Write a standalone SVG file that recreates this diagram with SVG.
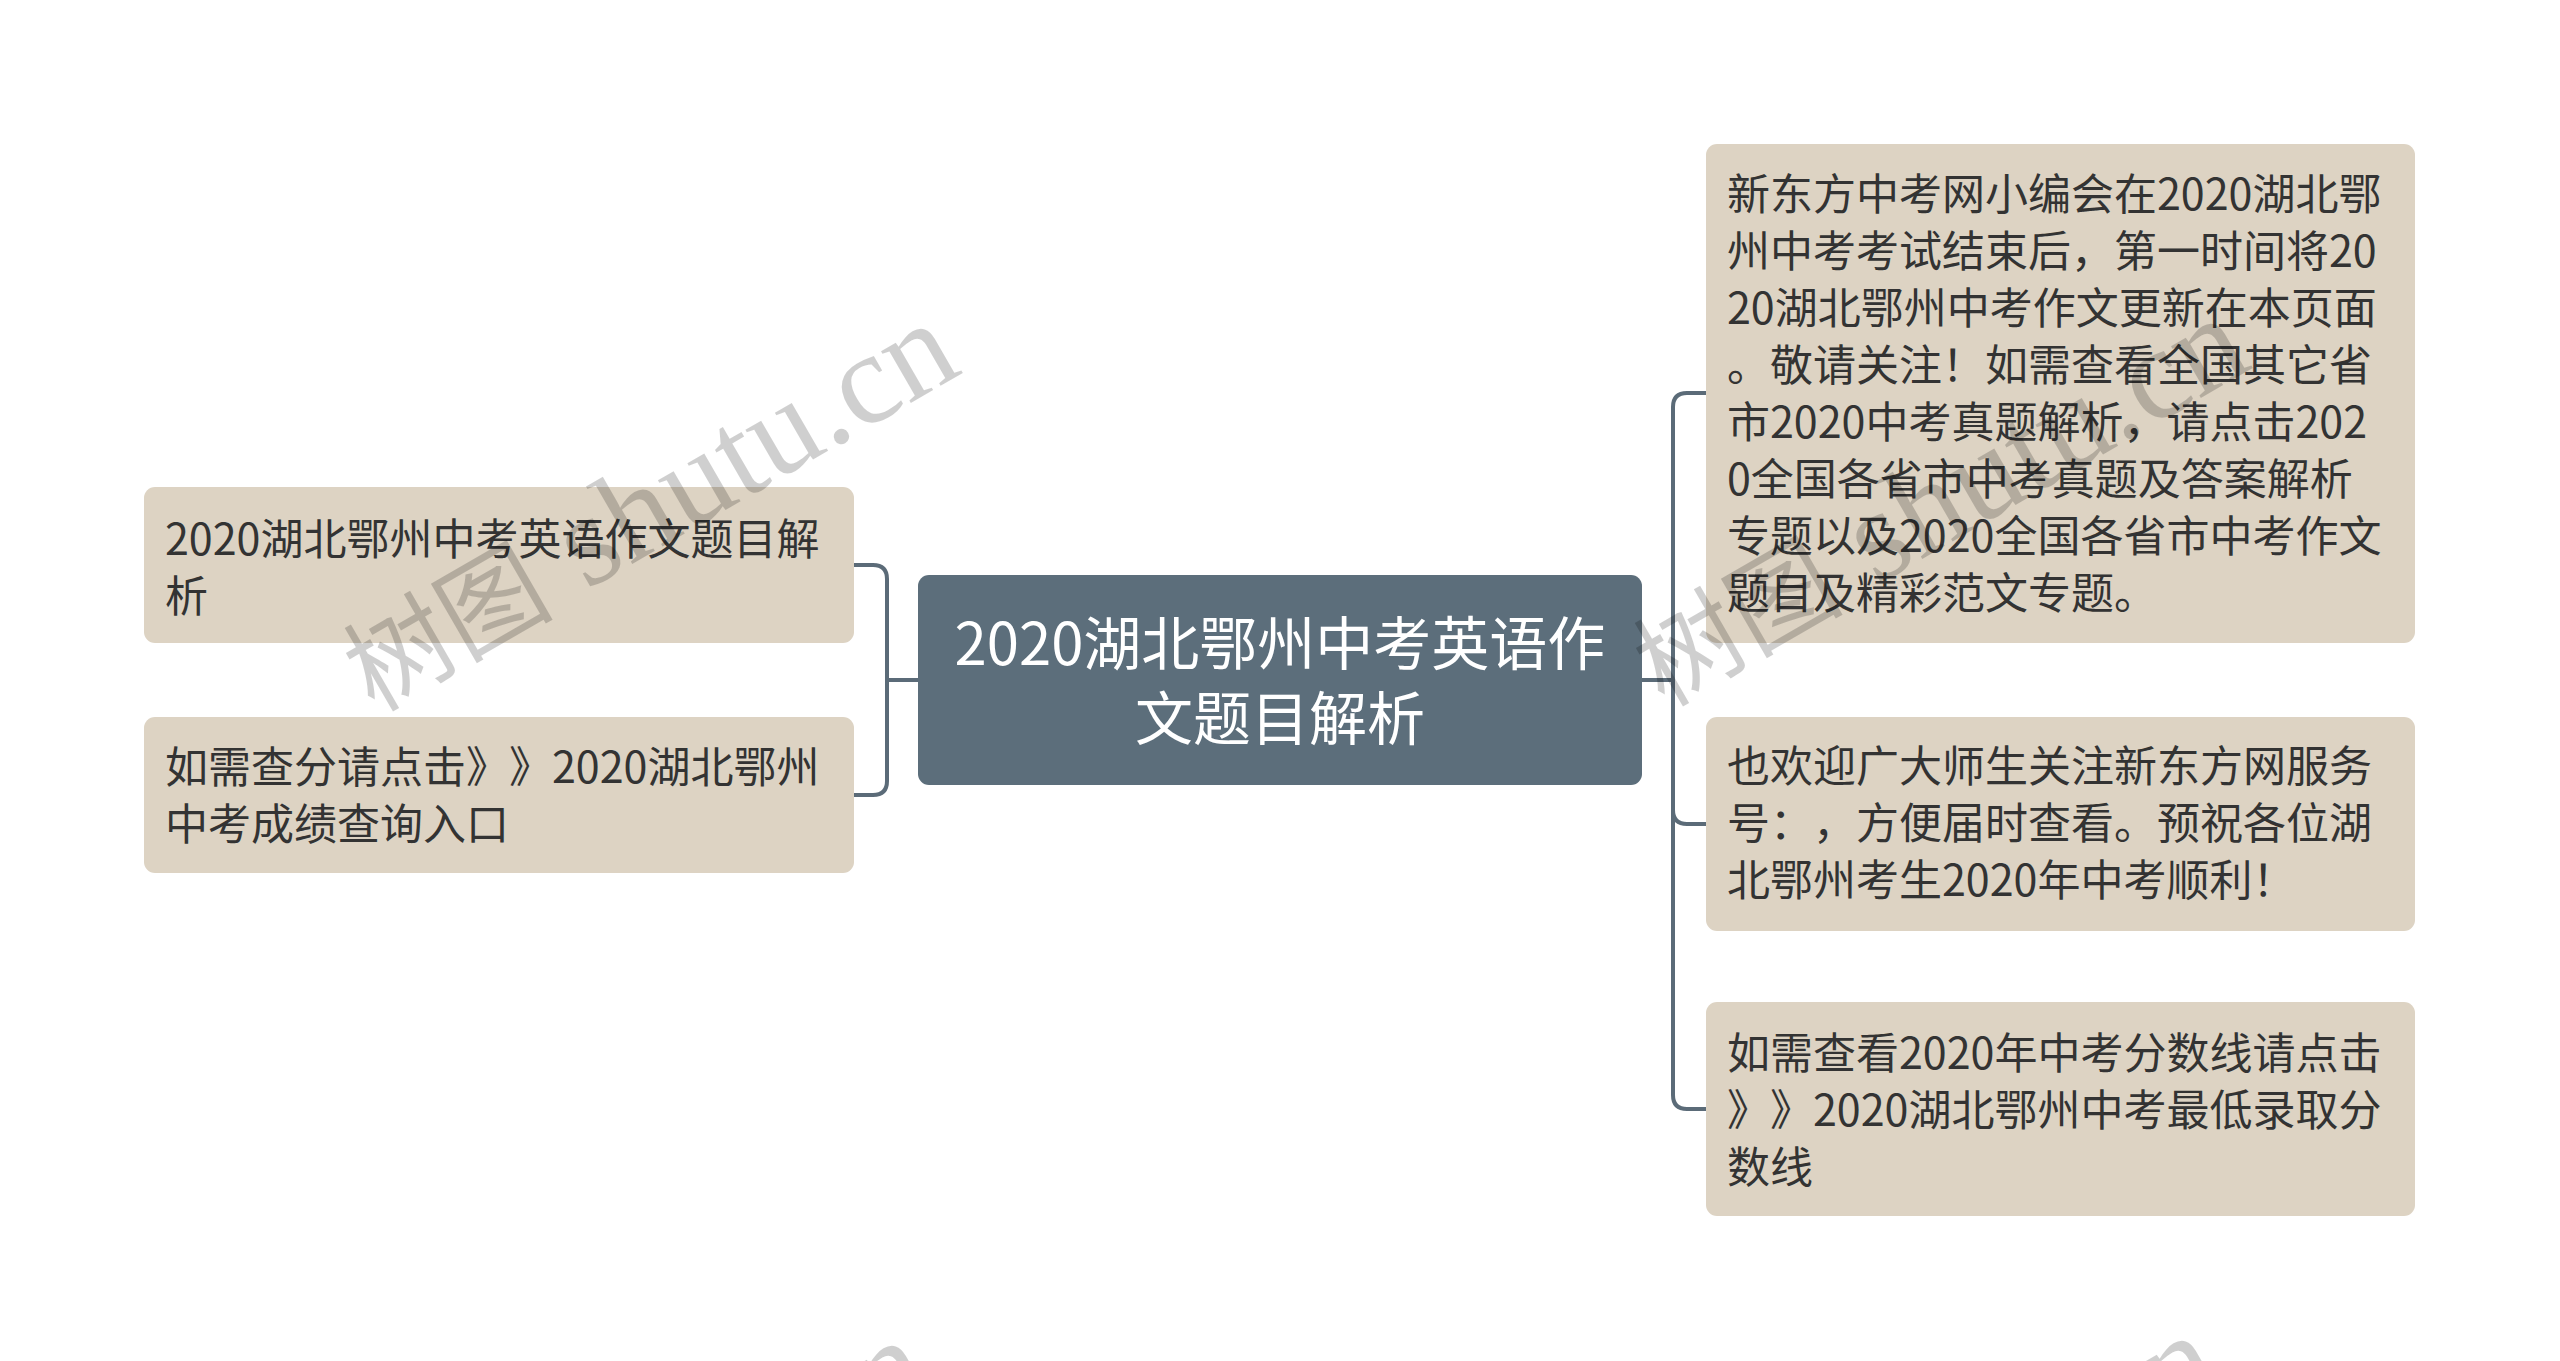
<svg xmlns="http://www.w3.org/2000/svg" width="2560" height="1361" viewBox="0 0 2560 1361">
<style>
text{text-spacing-trim:space-all;}
.leaf{fill:#ddd3c3;}
.root{fill:#5c6e7b;}
.lt{font-family:"Noto Sans CJK SC","Noto Sans",sans-serif;font-size:43px;fill:#333333;}
.rt{font-family:"Noto Sans CJK SC","Noto Sans",sans-serif;font-size:58px;fill:#ffffff;text-anchor:middle;}
.con{fill:none;stroke:#5b6b78;stroke-width:4;}
.wm{fill:#000000;fill-opacity:0.19;}
.wmc{font-family:"Noto Sans CJK SC",sans-serif;font-size:105px;}
.wml{font-family:"Liberation Serif",serif;font-size:130px;}
</style>
<rect x="0" y="0" width="2560" height="1361" fill="#ffffff"/>
<g id="connectors">
<path class="con" d="M918,680 H887 V579 Q887,565 873,565 H854"/>
<path class="con" d="M918,680 H887 V781 Q887,795 873,795 H854"/>
<path class="con" d="M1642,680 H1673 V407 Q1673,393 1687,393 H1706"/>
<path class="con" d="M1642,680 H1673 V810 Q1673,824 1687,824 H1706"/>
<path class="con" d="M1642,680 H1673 V1095 Q1673,1109 1687,1109 H1706"/>
</g>
<g id="root">
<rect class="root" x="918" y="575" width="724" height="210" rx="11"/>
<text class="rt" x="1280" y="665">2020湖北鄂州中考英语作</text>
<text class="rt" x="1280" y="740">文题目解析</text>
</g>
<g id="left1">
<rect class="leaf" x="144" y="487" width="710" height="156" rx="11"/>
<text class="lt" x="165" y="555">2020湖北鄂州中考英语作文题目解</text>
<text class="lt" x="165" y="612">析</text>
</g>
<g id="left2">
<rect class="leaf" x="144" y="717" width="710" height="156" rx="11"/>
<text class="lt" x="165" y="783">如需查分请点击》》2020湖北鄂州</text>
<text class="lt" x="165" y="840">中考成绩查询入口</text>
</g>
<g id="right1">
<rect class="leaf" x="1706" y="144" width="709" height="499" rx="11"/>
<text class="lt" x="1727" y="210">新东方中考网小编会在2020湖北鄂</text>
<text class="lt" x="1727" y="267">州中考考试结束后，第一时间将20</text>
<text class="lt" x="1727" y="324">20湖北鄂州中考作文更新在本页面</text>
<text class="lt" x="1727" y="381">。敬请关注！如需查看全国其它省</text>
<text class="lt" x="1727" y="438">市2020中考真题解析，请点击202</text>
<text class="lt" x="1727" y="495">0全国各省市中考真题及答案解析</text>
<text class="lt" x="1727" y="552">专题以及2020全国各省市中考作文</text>
<text class="lt" x="1727" y="609">题目及精彩范文专题。</text>
</g>
<g id="right2">
<rect class="leaf" x="1706" y="717" width="709" height="214" rx="11"/>
<text class="lt" x="1727" y="782">也欢迎广大师生关注新东方网服务</text>
<text class="lt" x="1727" y="839">号：，方便届时查看。预祝各位湖</text>
<text class="lt" x="1727" y="896">北鄂州考生2020年中考顺利！</text>
</g>
<g id="right3">
<rect class="leaf" x="1706" y="1002" width="709" height="214" rx="11"/>
<text class="lt" x="1727" y="1069">如需查看2020年中考分数线请点击</text>
<text class="lt" x="1727" y="1126">》》2020湖北鄂州中考最低录取分</text>
<text class="lt" x="1727" y="1183">数线</text>
</g>
<g id="watermarks" class="wm">
<g transform="translate(374,713) rotate(-30)"><text class="wmc" x="0" y="0">树图</text><text class="wml" x="245" y="0">shutu.cn</text></g>
<g transform="translate(1664,708) rotate(-30)"><text class="wmc" x="0" y="0">树图</text><text class="wml" x="245" y="0">shutu.cn</text></g>
<g transform="translate(345,1730) rotate(-30)"><text class="wmc" x="0" y="0">树图</text><text class="wml" x="245" y="0">shutu.cn</text></g>
<g transform="translate(1635,1725) rotate(-30)"><text class="wmc" x="0" y="0">树图</text><text class="wml" x="245" y="0">shutu.cn</text></g>
</g>
</svg>
